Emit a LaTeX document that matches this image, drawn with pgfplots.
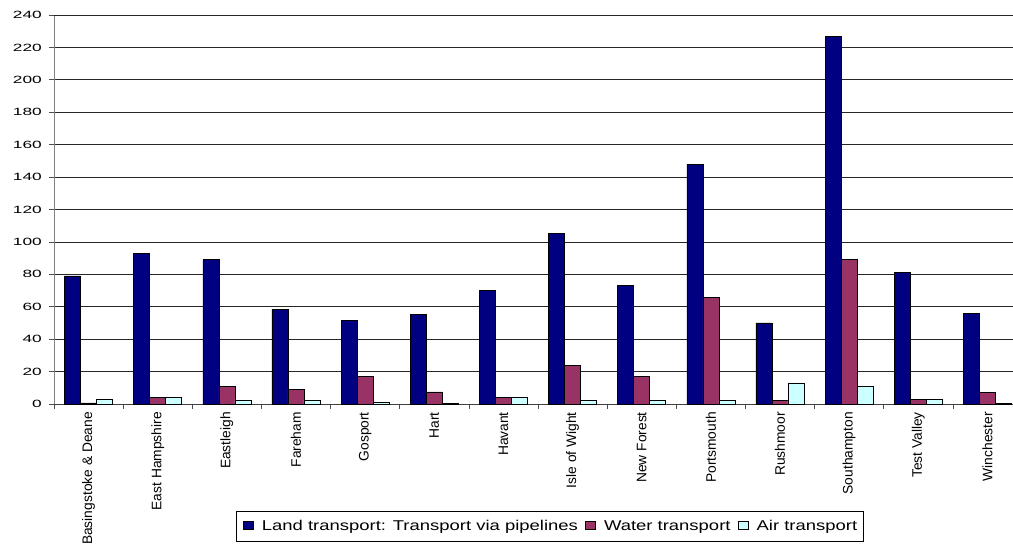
\documentclass[border=0pt]{standalone}
\usepackage{fontspec}
\setmainfont{Liberation Sans}
\usepackage{pgfplots}
\pgfplotsset{compat=1.18}
\definecolor{landc}{HTML}{000080}
\definecolor{waterc}{HTML}{993366}
\definecolor{airc}{HTML}{CCFFFF}
\begin{document}
\begin{tikzpicture}
\begin{axis}[
  at={(0pt,0pt)}, anchor=south west,
  scale only axis, width=959pt, height=389pt,
  xmin=-0.5, xmax=13.37, ymin=0, ymax=240,
  axis lines*=left,
  x axis line style={black!75, line width=0.8pt},
  y axis line style={black!50, line width=0.8pt},
  ybar=0pt, bar width=16pt,
  ytick={0,20,...,220},
  extra y ticks={240},
  extra y tick style={grid style={black!15, line width=0.7pt}},
  /pgf/number format/assume math mode=true,
  yticklabel={\scalebox{1.65}[1]{\pgfmathprintnumber{\tick}}},
  yticklabel style={font=\fontsize{10.5}{12}\selectfont, inner sep=0pt},
  yticklabel shift=7pt,
  ymajorgrids, major grid style={black!85, line width=0.7pt},
  tick align=outside, major tick length=5pt,
  tick style={black!70, line width=0.7pt},
  xtick={-0.5,0.5,...,12.5}, xticklabels={},
  extra x ticks={0,1,...,13},
  extra x tick labels={Basingstoke \& Deane, East Hampshire, Eastleigh, Fareham, Gosport, Hart, Havant, Isle of Wight, New Forest, Portsmouth, Rushmoor, Southampton, Test Valley, Winchester},
  extra x tick style={major tick length=0pt, grid=none},
  xticklabel style={rotate=90, anchor=east, inner sep=0pt, font=\fontsize{13.8}{15}\selectfont},
  xticklabel shift=8pt,
  legend columns=-1,
  legend style={at={(0.5172,-0.275)}, anchor=north, draw=black, line width=0.7pt,
    font=\fontsize{14.2}{16}\selectfont, inner xsep=6pt, inner ysep=7pt,
    nodes={inner xsep=0pt},
    /tikz/every odd column/.append style={column sep=8pt},
    /tikz/every even column/.append style={column sep=7pt}},
  legend image code/.code={\draw[#1, draw=black, line width=0.6pt] (0pt,-3pt) rectangle (10.5pt,4.5pt);},
]
\addplot[fill=landc, draw=black, line width=0.6pt] coordinates {
(0,79) (1,93) (2,89) (3,58.5) (4,51.5) (5,55.5) (6,70) (7,105.5) (8,73) (9,148) (10,50) (11,227) (12,81) (13,56)};
\addplot[fill=waterc, draw=black, line width=0.6pt] coordinates {
(0,0.7) (1,4) (2,11) (3,9) (4,17) (5,7.5) (6,4) (7,24) (8,17) (9,66) (10,2) (11,89) (12,3) (13,7)};
\addplot[fill=airc, draw=black, line width=0.6pt] coordinates {
(0,3) (1,4) (2,2.5) (3,2.4) (4,0.8) (5,0.6) (6,4) (7,2.3) (8,2.3) (9,2.3) (10,13) (11,10.7) (12,3) (13,0.6)};
\legend{\scalebox{1.3}[1]{Land transport: Transport via pipelines},\scalebox{1.3}[1]{Water transport},\scalebox{1.3}[1]{Air transport}}
\end{axis}
\pgfresetboundingbox
\useasboundingbox (-54pt,-140pt) rectangle (959pt,404pt);
\end{tikzpicture}
\end{document}
